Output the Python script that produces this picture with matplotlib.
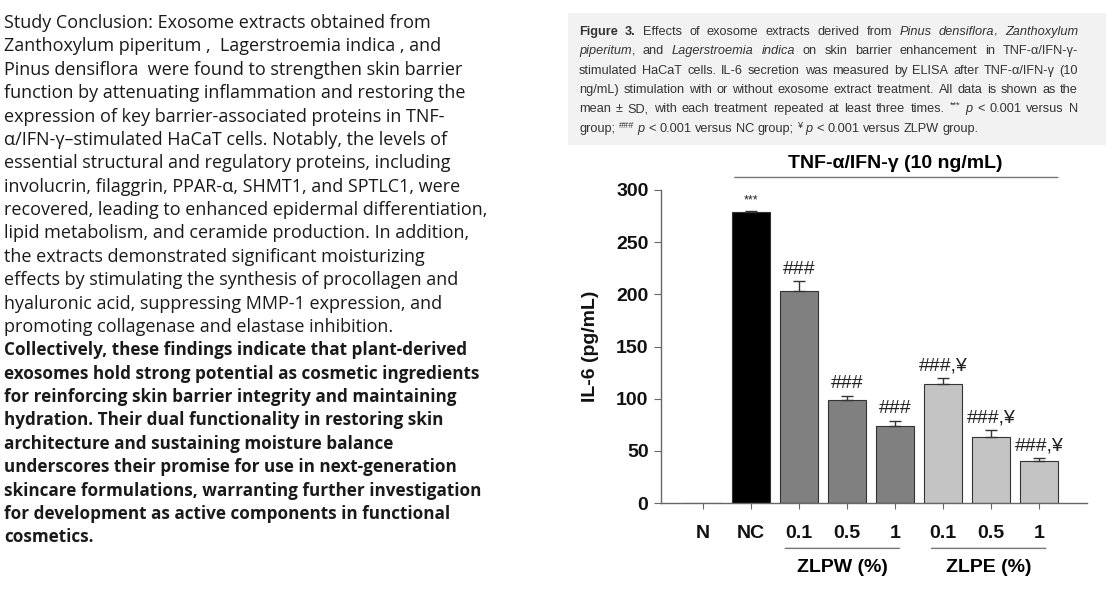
import matplotlib
matplotlib.use('Agg')
import matplotlib.pyplot as plt
from matplotlib.patches import Rectangle
import numpy as np

# data
groups = ['N', 'NC', '0.1', '0.5', '1', '0.1', '0.5', '1']
il6 = [0, 279, 203, 99, 74, 114, 63, 40]
il6_sd = [0, 1, 10, 4, 5, 6, 7, 3.5]
marks = ['', '***', '###', '###', '###', '###,¥', '###,¥', '###,¥']
bar_colors = ['white', 'black', '#808080', '#808080', '#808080', '#c4c4c4', '#c4c4c4', '#c4c4c4']
y_ticks = [0, 50, 100, 150, 200, 250, 300]

W, H = 1106, 600
fig = plt.figure(figsize=(W / 100, H / 100), dpi=100)
fig.patch.set_facecolor('white')

# left conclusion text
plain_lines = [
    "Study Conclusion: Exosome extracts obtained from",
    "Zanthoxylum piperitum ,  Lagerstroemia indica , and",
    "Pinus densiflora  were found to strengthen skin barrier",
    "function by attenuating inflammation and restoring the",
    "expression of key barrier-associated proteins in TNF-",
    "α/IFN-γ–stimulated HaCaT cells. Notably, the levels of",
    "essential structural and regulatory proteins, including",
    "involucrin, filaggrin, PPAR-α, SHMT1, and SPTLC1, were",
    "recovered, leading to enhanced epidermal differentiation,",
    "lipid metabolism, and ceramide production. In addition,",
    "the extracts demonstrated significant moisturizing",
    "effects by stimulating the synthesis of procollagen and",
    "hyaluronic acid, suppressing MMP-1 expression, and",
    "promoting collagenase and elastase inhibition.",
]
bold_lines = [
    "Collectively, these findings indicate that plant-derived",
    "exosomes hold strong potential as cosmetic ingredients",
    "for reinforcing skin barrier integrity and maintaining",
    "hydration. Their dual functionality in restoring skin",
    "architecture and sustaining moisture balance",
    "underscores their promise for use in next-generation",
    "skincare formulations, warranting further investigation",
    "for development as active components in functional",
    "cosmetics.",
]
for i, line in enumerate(plain_lines + bold_lines):
    is_bold = i >= len(plain_lines)
    fig.text(4 / W, 1 - (28 + i * 23.38) / H, line,
             family=['Open Sans', 'DejaVu Sans'], fontsize=12.3 if is_bold else 13.0,
             color='#1a1a1a', fontweight='bold' if is_bold else 'normal', va='baseline')

# caption box
fig.patches.append(Rectangle((568 / W, 1 - 145 / H), (W - 568) / W, 132 / H,
                             transform=fig.transFigure, facecolor='#f2f2f2',
                             edgecolor='none', zorder=0))
caption = [
    [("Figure 3.", 'b'), (" Effects of exosome extracts derived from ", 'n'),
     ("Pinus densiflora", 'i'), (", ", 'n'), ("Zanthoxylum", 'i')],
    [("piperitum", 'i'), (", and ", 'n'), ("Lagerstroemia indica", 'i'),
     (" on skin barrier enhancement in TNF-α/IFN-γ-", 'n')],
    [("stimulated HaCaT cells. IL-6 secretion was measured by ELISA after TNF-α/IFN-γ (10", 'n')],
    [("ng/mL) stimulation with or without exosome extract treatment. All data is shown as the", 'n')],
    [("mean ± SD, with each treatment repeated at least three times. ", 'n'), ("***", 's'),
     (" ", 'n'), ("p", 'i'), (" < 0.001 versus N", 'n')],
    [("group; ", 'n'), ("###", 's'), (" ", 'n'), ("p", 'i'), (" < 0.001 versus NC group; ", 'n'),
     ("¥", 's'), (" ", 'n'), ("p", 'i'), (" < 0.001 versus ZLPW group.", 'n')],
]
renderer = fig.canvas.get_renderer()
cap_fs = 9.2


def cap_props(st):
    p = dict(family=['Liberation Sans', 'DejaVu Sans'], fontsize=cap_fs, color='#333333', va='baseline')
    if st == 'b':
        p['fontweight'] = 'bold'
    if st == 'i':
        p['fontstyle'] = 'italic'
    if st == 's':
        p['fontsize'] = cap_fs * 0.72
    return p


def width_of(s, st):
    t = fig.text(0, 0, s, **cap_props(st))
    w = t.get_window_extent(renderer).width
    t.remove()
    return w


x0, x1 = 579, 1078
space_w = width_of('a a', 'n') - width_of('aa', 'n')
for li, segs in enumerate(caption):
    words = [[]]
    for txt, st in segs:
        parts = txt.split(' ')
        for k, p in enumerate(parts):
            if k > 0:
                words.append([])
            if p:
                words[-1].append((p, st))
    words = [w for w in words if w]
    widths = [[width_of(p, st) for p, st in w] for w in words]
    total = sum(sum(w) for w in widths)
    gap = (x1 - x0 - total) / (len(words) - 1) if li < len(caption) - 1 else space_w
    y = 35 + li * 19.3
    x = x0
    for w, ws in zip(words, widths):
        for (p, st), pw in zip(w, ws):
            yy = y - 4 if st == 's' else y
            fig.text(x / W, 1 - yy / H, p, **cap_props(st))
            x += pw
        x += gap

# bar chart
ax = fig.add_axes([661 / W, 1 - 503 / H, (1087 - 661) / W, (503 - 190) / H])
xpos = np.arange(len(groups))
ax.bar(xpos, il6, width=0.8, color=bar_colors, edgecolor='#333333', linewidth=0.8, zorder=2)
ax.errorbar(xpos[1:], il6[1:], yerr=[np.zeros(len(il6) - 1), il6_sd[1:]], fmt='none',
            ecolor='#333333', elinewidth=1, capsize=4, capthick=1, zorder=3)
for xi, v, sd, m in zip(xpos, il6, il6_sd, marks):
    if m == '***':
        ax.text(xi, v + sd + 4, m, ha='center', va='bottom', fontsize=9,
                family='Liberation Sans', color='#222222')
    elif m:
        ax.text(xi, v + sd + 3, m, ha='center', va='bottom', fontsize=14,
                family='Liberation Sans', color='#222222')

ax.set_xlim(-0.88, 8.0)
ax.set_ylim(0, 300)
ax.set_yticks(y_ticks)
ax.set_xticks(xpos)
ax.set_xticklabels(groups)
for lab in ax.get_xticklabels() + ax.get_yticklabels():
    lab.set_fontweight('bold')
    lab.set_fontsize(14)
    lab.set_family('Liberation Sans')
    lab.set_color('#111111')
ax.tick_params(axis='x', length=4, color='#666666', pad=12)
ax.tick_params(axis='y', length=5, color='#666666', pad=4)
for s in ['top', 'right']:
    ax.spines[s].set_visible(False)
for s in ['left', 'bottom']:
    ax.spines[s].set_color('#666666')
    ax.spines[s].set_linewidth(1)
ax.set_ylabel('IL-6 (pg/mL)', fontsize=14, fontweight='bold', family='Liberation Sans',
              color='#111111', labelpad=12)

# treatment bracket on top
ax.annotate('', xy=(0.6, 1.04), xytext=(7.45, 1.04), xycoords=('data', 'axes fraction'),
            arrowprops=dict(arrowstyle='-', color='#777777', lw=1))
ax.text(4.0, 1.058, 'TNF-α/IFN-γ (10 ng/mL)', transform=ax.get_xaxis_transform(),
        ha='center', va='bottom', fontsize=14, fontweight='bold', family='Liberation Sans')

# group labels below
for a, b, name in [(1.65, 4.15, 'ZLPW (%)'), (4.7, 7.2, 'ZLPE (%)')]:
    ax.annotate('', xy=(a, -0.145), xytext=(b, -0.145), xycoords=('data', 'axes fraction'),
                arrowprops=dict(arrowstyle='-', color='#777777', lw=1))
    ax.text((a + b) / 2, -0.18, name, transform=ax.get_xaxis_transform(), ha='center', va='top',
            fontsize=14, fontweight='bold', family='Liberation Sans')

fig.savefig('out.png', dpi=100)
